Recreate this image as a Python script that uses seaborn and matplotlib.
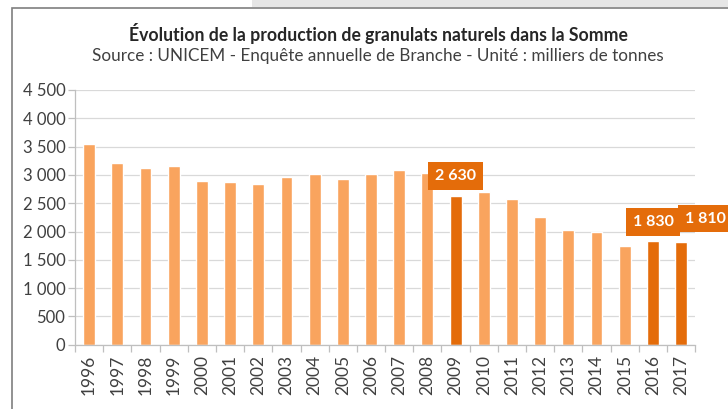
import matplotlib
matplotlib.use("Agg")
import matplotlib.pyplot as plt
import seaborn as sns
import pandas as pd
from matplotlib.patches import Rectangle
from matplotlib.ticker import FuncFormatter, MultipleLocator

# data
years = [str(y) for y in range(1996, 2018)]
production = [3550, 3210, 3130, 3160, 2890, 2875, 2840, 2965, 3010, 2935, 3010,
              3080, 3030, 2630, 2695, 2570, 2250, 2020, 1990, 1745, 1830, 1810]
highlight = ["2009", "2016", "2017"]
labels = {"2009": "2 630", "2016": "1 830", "2017": "1 810"}

light = "#F9A45E"
dark = "#E46C0A"

df = pd.DataFrame({"year": years, "prod": production})
palette = {y: (dark if y in highlight else light) for y in years}

sns.set_style("white")
plt.rcParams["font.family"] = ["Lato", "DejaVu Sans"]

fig = plt.figure(figsize=(7.28, 4.09), dpi=100)
ax = fig.add_axes([0.103, 0.157, 0.852, 0.623])

sns.barplot(data=df, x="year", y="prod", hue="year", palette=palette,
            width=0.42, legend=False, ax=ax, saturation=1)

ax.set_ylim(0, 4500)
ax.set_xlim(-0.5, len(years) - 0.5)
ax.yaxis.set_major_locator(MultipleLocator(500))
ax.yaxis.set_major_formatter(FuncFormatter(lambda v, p: f"{int(v):,}".replace(",", " ")))
ax.grid(axis="y", color="#D9D9D9", linewidth=0.9)
ax.set_axisbelow(True)
ax.set_xlabel("")
ax.set_ylabel("")

for s in ["top", "right"]:
    ax.spines[s].set_visible(False)
for s in ["left", "bottom"]:
    ax.spines[s].set_color("#BFBFBF")
    ax.spines[s].set_linewidth(0.9)

ax.tick_params(axis="y", labelsize=12, colors="#BFBFBF", labelcolor="#404040",
               length=5, width=0.9, left=True, pad=2)
ax.tick_params(axis="x", labelsize=12.5, labelcolor="#404040", rotation=90, length=0, pad=7)
ax.set_xticks([i - 0.5 for i in range(len(years) + 1)], minor=True)
ax.tick_params(axis="x", which="minor", length=5, width=0.9, color="#BFBFBF", bottom=True)

offsets = {"2009": (0, 350), "2016": (0, 340), "2017": (0.85, 420)}
for y, txt in labels.items():
    i = years.index(y)
    dx, dy = offsets[y]
    v = production[i]
    ax.text(i + dx, v + dy, txt, ha="center", va="center", color="white",
            fontsize=11.5, fontweight="bold", clip_on=False,
            bbox=dict(boxstyle="square,pad=0.42", fc=dark, ec="none"))

# frame and title block
fig.patches.append(Rectangle((252 / 728, 1 - 7 / 409), 1, 7 / 409, transform=fig.transFigure,
                             fc="#E6E6E6", ec="none", zorder=0))
fig.patches.append(Rectangle((12 / 728, -0.01), 1.1, 1 - 8 / 409 + 0.01, transform=fig.transFigure,
                             fc="none", ec="#7F7F7F", lw=1.2, zorder=0))
fig.text(378 / 728, 1 - 34 / 409, "Évolution de la production de granulats naturels dans la Somme",
         ha="center", va="center", fontsize=12.7, fontweight="bold", color="#262626")
fig.text(378 / 728, 1 - 56 / 409, "Source : UNICEM - Enquête annuelle de Branche - Unité : milliers de tonnes",
         ha="center", va="center", fontsize=12.3, color="#404040")

fig.savefig("out.png", dpi=100)
